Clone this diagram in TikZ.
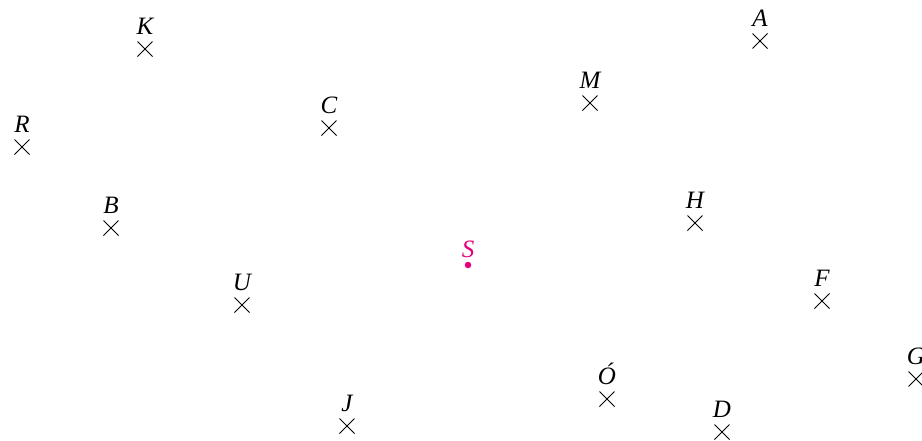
\documentclass[tikz,border=0pt]{standalone}
\usepackage{fontspec}
\setmainfont{Liberation Serif}
\usetikzlibrary{shapes.misc}
\definecolor{mag}{RGB}{228,0,124}
\begin{document}
\begin{tikzpicture}[x=1pt,y=-1pt,
  crs/.style={cross out, draw=black, line width=1pt, minimum size=14pt, inner sep=0pt},
  lbl/.style={anchor=base, inner sep=0pt, font=\fontsize{25}{28}\selectfont\itshape},
  sdot/.style={circle, fill=mag, inner sep=0pt, minimum size=6.5pt}]
\useasboundingbox (0,0) rectangle (922,440);
\clip (0,0) rectangle (922,440);
\foreach \n/\x/\y in {K/145/49, A/760/41, M/590/103, C/329/128, R/22/147, B/111/228, H/695/223, U/242/305, F/822/301, G/916/379, O/607/399, J/347/426, D/722/432}{
  \node[crs] (\n) at (\x,\y) {};
}
\foreach \n/\t in {K/K, A/A, M/M, C/C, R/R, B/B, H/H, U/U, F/F, G/G, O/Ó, J/J, D/D}{
  \path (\n.center) ++(0,-15) node[lbl] (l\n) {\t};
}
\node[sdot] (S) at (468,265) {};
\path (S.center) ++(0,-8) node[lbl, text=mag] (lS) {S};
\end{tikzpicture}
\end{document}
